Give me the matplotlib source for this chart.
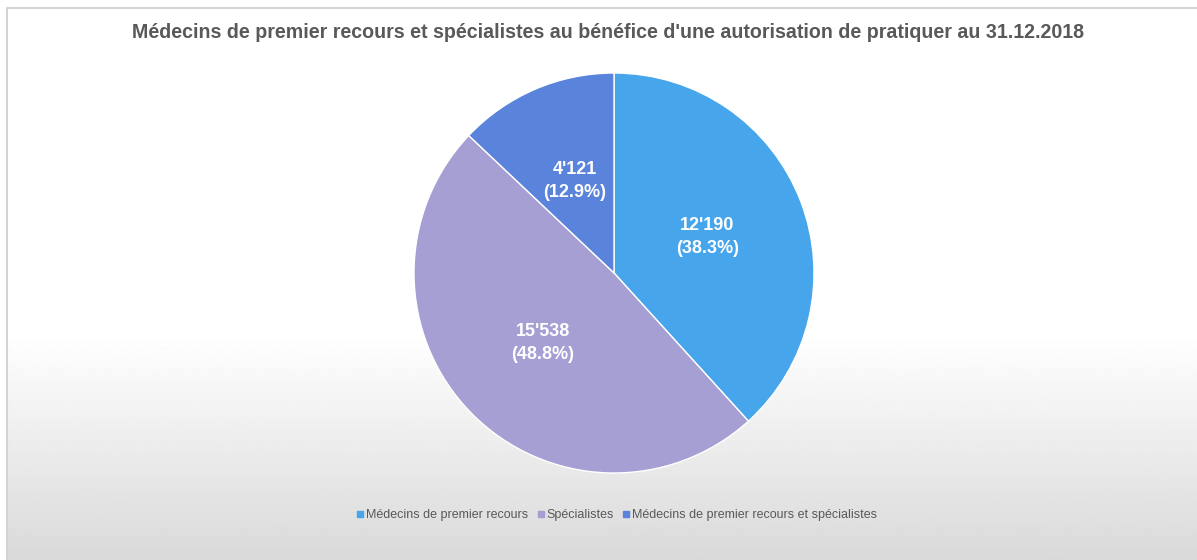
import numpy as np
import matplotlib.pyplot as plt
from matplotlib.lines import Line2D

title = "Médecins de premier recours et spécialistes au bénéfice d'une autorisation de pratiquer au 31.12.2018"
labels = ["Médecins de premier recours", "Spécialistes", "Médecins de premier recours et spécialistes"]
values = [12190, 15538, 4121]
colors = ["#47a5ec", "#a59fd4", "#5a83db"]

plt.rcParams["font.family"] = ["Liberation Sans", "DejaVu Sans"]

W, H = 1197, 560
fig = plt.figure(figsize=(W / 100, H / 100), dpi=100)

# background: white fading to light grey at the bottom, inside the chart frame
bg = fig.add_axes([0, 0, 1, 1], zorder=-10)
rows = np.arange(H)
shade = np.clip((rows - 330) / (H - 330), 0, 1)
grad = 1 - shade * (38 / 255)
bg.imshow(grad[:, None], aspect="auto", cmap="gray", vmin=0, vmax=1,
          extent=[7, W, H, 8], interpolation="bilinear")
bg.plot([7, 7, W], [H, 8, 8], color="#d4d4d4", lw=1.5)
bg.set_xlim(0, W)
bg.set_ylim(H, 0)
bg.axis("off")

total = sum(values)


def fmt(pct):
    v = int(round(pct * total / 100))
    return f"{v:,}".replace(",", "'") + f"\n({pct:.1f}%)"


ax = fig.add_axes([(614 - 200) / W, (H - 273 - 200) / H, 400 / W, 400 / H])
wedges, texts, autotexts = ax.pie(values, colors=colors, startangle=90, counterclock=False,
                                  autopct=fmt, pctdistance=0.5,
                                  wedgeprops=dict(edgecolor="white", linewidth=1))
for t in autotexts:
    t.set_color("white")
    t.set_fontsize(13)
    t.set_fontweight("bold")
    t.set_linespacing(1.45)
ax.set_aspect("equal")
ax.set_xlim(-1, 1)
ax.set_ylim(-1, 1)

fig.text(608 / W, 1 - 32 / H, title, ha="center", va="center",
         fontsize=14.1, fontweight="bold", color="#595959")

handles = [Line2D([], [], marker="s", ls="", color=c, markersize=5) for c in colors]
fig.legend(handles, labels, loc="center", bbox_to_anchor=(616 / W, 1 - 515 / H),
           ncol=3, frameon=False, fontsize=9, labelcolor="#595959",
           handletextpad=0.05, columnspacing=0.6, handlelength=0.8)

fig.savefig("out.png", dpi=100)
